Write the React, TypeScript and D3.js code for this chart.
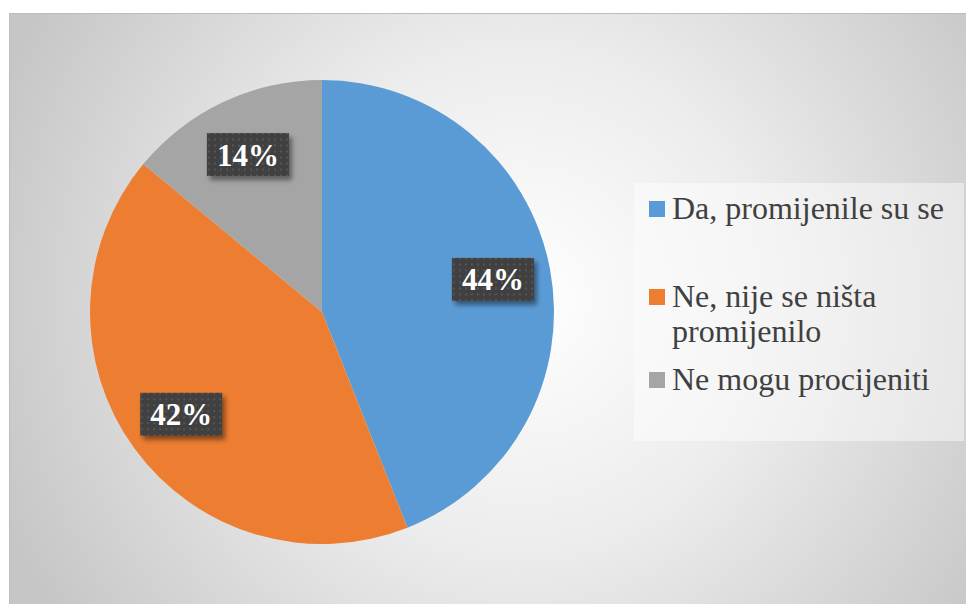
import React from 'react'
import * as d3 from 'd3'

// answers and their shares
const categories = ['Da, promijenile su se', 'Ne, nije se ništa promijenilo', 'Ne mogu procijeniti']
const shares = [44, 42, 14]
const colors = ['#5b9bd5', '#ed7d31', '#a5a5a5']
// legend lines (second item wraps)
const legendLines = [['Da, promijenile su se'], ['Ne, nije se ništa', 'promijenilo'], ['Ne mogu procijeniti']]

const W = 966
const H = 604
const cx = 322
const cy = 312
const R = 232
const serif = "'Times New Roman', Times, 'Liberation Serif', Tinos, 'Noto Serif', 'DejaVu Serif', FreeSerif, serif"

const App = () => {
  const pie = d3.pie<number>().value((d) => d).sort(null)
  const arc = d3.arc<d3.PieArcDatum<number>>().innerRadius(0).outerRadius(R)
  const labelArc = d3.arc<d3.PieArcDatum<number>>().innerRadius(174).outerRadius(174)
  const arcs = pie(shares)

  // legend vertical layout
  const legendY = d3.scaleOrdinal<number, number>().domain([0, 1, 2]).range([219, 307, 390])

  return (
    <div style={{ position: 'absolute', left: 0, top: 0 }}>
      <svg width={W} height={H} style={{ display: 'block', fontFamily: serif }}>
        <defs>
          <radialGradient id="bg" gradientUnits="userSpaceOnUse" cx={520} cy={300} r={560}>
            <stop offset="0" stopColor="#ffffff" />
            <stop offset="0.45" stopColor="#ececec" />
            <stop offset="1" stopColor="#c6c6c6" />
          </radialGradient>
          <pattern id="dots" width={6} height={6} patternUnits="userSpaceOnUse">
            <rect width={6} height={6} fill="#3f3f3f" />
            <rect x={2} y={2} width={2} height={2} fill="#565656" />
          </pattern>
          <filter id="shadow" x="-20%" y="-20%" width="150%" height="160%">
            <feDropShadow dx={3} dy={4} stdDeviation={2.5} floodColor="#000" floodOpacity={0.45} />
          </filter>
        </defs>
        <rect x={9.5} y={13.5} width={W + 10} height={H + 10} fill="url(#bg)" stroke="#bdbdbd" strokeWidth={1} />
        <g transform={`translate(${cx},${cy})`}>
          {arcs.map((a, i) => (
            <path key={`s-${i}`} d={arc(a) || ''} fill={colors[i]} />
          ))}
          {arcs.map((a, i) => {
            const [x, y] = labelArc.centroid(a)
            return (
              <g key={`l-${i}`} transform={`translate(${x},${y})`}>
                <rect x={-41} y={-21.5} width={82} height={43} fill="url(#dots)" filter="url(#shadow)" />
                <text y={11} textAnchor="middle" fill="#ffffff" fontWeight="bold" fontSize={31}>
                  {shares[i]}%
                </text>
              </g>
            )
          })}
        </g>
        <rect x={634} y={183} width={330} height={258} fill="#ffffff" fillOpacity={0.45} />
        {categories.map((c, i) => (
          <g key={`lg-${i}`}>
            <rect x={649} y={legendY(i) - 18} width={16} height={16} fill={colors[i]} />
            <text x={672} y={legendY(i)} fill="#404040" fontSize={32}>
              {legendLines[i].map((ln, j) => (
                <tspan key={j} x={672} dy={j === 0 ? 0 : 35}>
                  {ln}
                </tspan>
              ))}
            </text>
          </g>
        ))}
      </svg>
    </div>
  )
}

export default App
